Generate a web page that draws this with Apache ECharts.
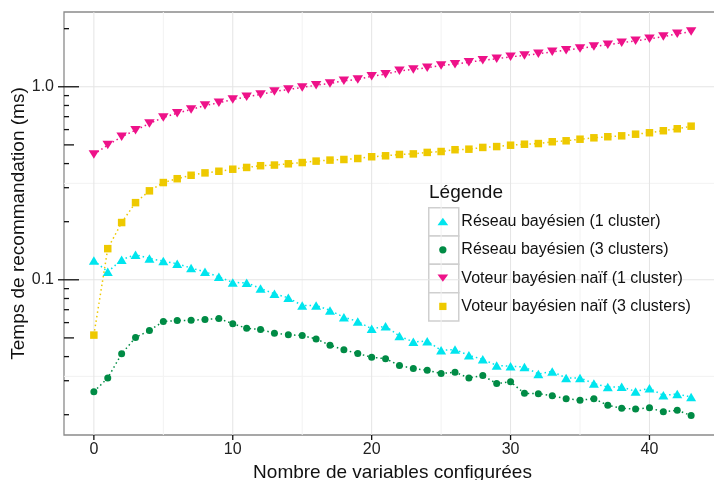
<!DOCTYPE html>
<html>
<head>
<meta charset="utf-8">
<script src="https://cdn.jsdelivr.net/npm/echarts@6/dist/echarts.min.js"></script>
<style>
html,body{margin:0;padding:0;background:#fff;}
#main{width:714px;height:480px;}
</style>
</head>
<body>
<div id="main"></div>
<script>
// nombre de variables configurées
var nbVariables = [0,1,2,3,4,5,6,7,8,9,10,11,12,13,14,15,16,17,18,19,20,21,22,23,24,25,26,27,28,29,30,31,32,33,34,35,36,37,38,39,40,41,42,43];
// temps (ms) par méthode
var reseau1 = [0.126,0.110,0.127,0.135,0.129,0.125,0.121,0.115,0.110,0.1036,0.0968,0.0965,0.0902,0.0846,0.0807,0.0736,0.0736,0.0694,0.0640,0.0608,0.0557,0.0575,0.0511,0.0477,0.0481,0.0431,0.0435,0.0406,0.0387,0.0360,0.0357,0.0353,0.0325,0.0335,0.0310,0.0310,0.0290,0.0278,0.0279,0.0264,0.0274,0.0252,0.0256,0.0247];
var reseau3 = [0.0263,0.0310,0.0414,0.0502,0.0546,0.0608,0.0615,0.0617,0.0623,0.0630,0.0592,0.0561,0.0553,0.0529,0.0519,0.0514,0.0494,0.0458,0.0434,0.0415,0.0397,0.0390,0.0360,0.0347,0.0340,0.0327,0.0332,0.0310,0.0319,0.0290,0.0296,0.0258,0.0257,0.0251,0.0242,0.0238,0.0242,0.0224,0.0216,0.0214,0.0217,0.0207,0.0211,0.0198];
var voteur1 = [0.446,0.499,0.551,0.596,0.645,0.693,0.730,0.763,0.800,0.826,0.859,0.887,0.912,0.946,0.968,0.992,1.019,1.04,1.074,1.091,1.135,1.162,1.21,1.23,1.254,1.289,1.31,1.34,1.373,1.396,1.43,1.452,1.482,1.518,1.548,1.58,1.617,1.65,1.69,1.73,1.773,1.82,1.88,1.934];
var voteur3 = [0.0517,0.145,0.198,0.251,0.289,0.319,0.334,0.348,0.358,0.365,0.374,0.382,0.390,0.393,0.399,0.405,0.412,0.417,0.420,0.425,0.434,0.439,0.446,0.449,0.457,0.462,0.472,0.475,0.485,0.490,0.498,0.504,0.508,0.519,0.525,0.535,0.544,0.551,0.557,0.568,0.578,0.592,0.606,0.625];
var nomsSeries = ['Réseau bayésien (1 cluster)','Réseau bayésien (3 clusters)','Voteur bayésien naïf (1 cluster)','Voteur bayésien naïf (3 clusters)'];
// graduations
var xTicks = [0,10,20,30,40];
var xTickLabels = ['0','10','20','30','40'];
var xMinorGrid = [5,15,25,35,45];
var yTicks = [0.1,1];
var yTickLabels = ['0.1','1.0'];
var yMinorGrid = [0.0316,0.316];
var yMidTicks = [0.05,0.5];
var ySmallTicks = [0.02,0.03,0.04,0.06,0.07,0.08,0.09,0.2,0.3,0.4,0.6,0.7,0.8,0.9,2];

var xMin = -2.15, xMax = 45.15, yMin = 0.0157, yMax = 2.44;
var couleurs = ['#00E5EE','#008B45','#EE1289','#EEC900'];
var police = 'Liberation Sans, Arial, Helvetica, sans-serif';

// éléments du fond : grille + graduations
var decor = [];
xMinorGrid.forEach(function(v){ decor.push({value:[v,yMin], k:'vmin'}); });
yMinorGrid.forEach(function(v){ decor.push({value:[xMin,v], k:'hmin'}); });
xTicks.forEach(function(v){ decor.push({value:[v,yMin], k:'vmaj'}); });
yTicks.forEach(function(v){ decor.push({value:[xMin,v], k:'hmaj'}); });
xTicks.forEach(function(v){ decor.push({value:[v,yMin], k:'xtick'}); });
yTicks.forEach(function(v){ decor.push({value:[xMin,v], k:'ytick'}); });
yMidTicks.forEach(function(v){ decor.push({value:[xMin,v], k:'ymid'}); });
ySmallTicks.forEach(function(v){ decor.push({value:[xMin,v], k:'ysmall'}); });

function renderDecor(params, api){
    var d = decor[params.dataIndex];
    var cs = params.coordSys;
    var p = api.coord([api.value(0), api.value(1)]);
    var s = {stroke:'#e4e4e4', lineWidth:1};
    var sh;
    if(d.k==='vmin'){ sh={x1:p[0],y1:cs.y,x2:p[0],y2:cs.y+cs.height}; s={stroke:'#f2f2f2',lineWidth:1}; }
    else if(d.k==='hmin'){ sh={x1:cs.x,y1:p[1],x2:cs.x+cs.width,y2:p[1]}; s={stroke:'#f2f2f2',lineWidth:1}; }
    else if(d.k==='vmaj'){ sh={x1:p[0],y1:cs.y,x2:p[0],y2:cs.y+cs.height}; }
    else if(d.k==='hmaj'){ sh={x1:cs.x,y1:p[1],x2:cs.x+cs.width,y2:p[1]}; }
    else if(d.k==='xtick'){ sh={x1:p[0],y1:cs.y+cs.height,x2:p[0],y2:cs.y+cs.height+5}; s={stroke:'#111',lineWidth:1.3}; }
    else if(d.k==='ytick'){ sh={x1:cs.x-6,y1:p[1],x2:cs.x+15,y2:p[1]}; s={stroke:'#111',lineWidth:1.3}; }
    else if(d.k==='ymid'){ sh={x1:cs.x,y1:p[1],x2:cs.x+10,y2:p[1]}; s={stroke:'#111',lineWidth:1.3}; }
    else { sh={x1:cs.x,y1:p[1],x2:cs.x+5,y2:p[1]}; s={stroke:'#111',lineWidth:1.3}; }
    return {type:'line', shape:sh, style:s, silent:true};
}

function paires(vals){
    var out = [];
    for(var i=0;i<nbVariables.length;i++) out.push([nbVariables[i], vals[i]]);
    return out;
}
function serie(nom, vals, coul, symb, taille, rot){
    return {
        name:nom, type:'line', data:paires(vals),
        symbol:symb, symbolSize:taille, symbolRotate:rot||0, showSymbol:true,
        itemStyle:{color:coul}, lineStyle:{color:coul, width:1.5, type:[1.5,3]},
        emphasis:{disabled:true}, z:3
    };
}

var myChart = echarts.init(document.getElementById('main'));
var option = {
    animation:false,
    backgroundColor:'#fff',
    textStyle:{fontFamily:police},
    title:{text:'Légende', left:429, top:183, padding:0,
        textStyle:{fontSize:19, fontWeight:'normal', color:'#111', fontFamily:police}},
    grid:{left:64, top:12, right:-7, bottom:45, outerBoundsMode:'none', containLabel:false,
        show:true, borderColor:'#8a8a8a', borderWidth:1.3, backgroundColor:'transparent'},
    xAxis:{
        type:'value', min:xMin, max:xMax, splitNumber:5,
        name:'Nombre de variables configurées', nameLocation:'middle', nameGap:28, nameMoveOverlap:false,
        nameTextStyle:{fontSize:19, color:'#111', fontFamily:police},
        axisLine:{show:false}, axisTick:{show:false}, splitLine:{show:false},
        axisLabel:{fontSize:16, color:'#222', margin:7, fontFamily:police,
            formatter:function(v){
                for(var i=0;i<xTicks.length;i++) if(Math.abs(v-xTicks[i])<1e-6) return xTickLabels[i];
                return '';
            }}
    },
    yAxis:{
        type:'log', logBase:10, min:yMin, max:yMax,
        name:'Temps de recommandation (ms)', nameLocation:'middle', nameGap:36, nameMoveOverlap:false,
        nameTextStyle:{fontSize:19, color:'#111', fontFamily:police},
        axisLine:{show:false}, axisTick:{show:false}, splitLine:{show:false},
        axisLabel:{fontSize:16, color:'#222', margin:10, fontFamily:police,
            formatter:function(v){
                for(var i=0;i<yTicks.length;i++) if(Math.abs(v/yTicks[i]-1)<1e-6) return yTickLabels[i];
                return '';
            }}
    },
    legend:{
        orient:'vertical', left:437.5, top:207.5, padding:0, itemGap:0.3,
        itemWidth:11, itemHeight:7.3, selectedMode:false,
        textStyle:{fontSize:16, color:'#111', lineHeight:28, fontFamily:police, padding:[0,0,0,8]},
        data:[
            {name:nomsSeries[0], icon:'path://M0,7.3L5.35,0L10.7,7.3Z'},
            {name:nomsSeries[1], icon:'path://M0,5a5,5 0 1,0 10,0a5,5 0 1,0 -10,0Z'},
            {name:nomsSeries[2], icon:'path://M0,0L10.7,0L5.35,7.3Z'},
            {name:nomsSeries[3], icon:'path://M0,0L8,0L8,8L0,8Z'}
        ]
    },
    graphic:[
        {type:'rect', left:428, top:207, z:-1, shape:{width:30, height:28.3}, style:{fill:'#fff', stroke:'#cfcfcf', lineWidth:1.5}},
        {type:'rect', left:428, top:235.3, z:-1, shape:{width:30, height:28.3}, style:{fill:'#fff', stroke:'#cfcfcf', lineWidth:1.5}},
        {type:'rect', left:428, top:263.6, z:-1, shape:{width:30, height:28.3}, style:{fill:'#fff', stroke:'#cfcfcf', lineWidth:1.5}},
        {type:'rect', left:428, top:291.9, z:-1, shape:{width:30, height:28.3}, style:{fill:'#fff', stroke:'#cfcfcf', lineWidth:1.5}}
    ],
    series:[
        {type:'custom', coordinateSystem:'cartesian2d', data:decor, renderItem:renderDecor, z:1, silent:true, clip:false, legendHoverLink:false},
        serie(nomsSeries[0], reseau1, couleurs[0], 'triangle', [10,8.5]),
        serie(nomsSeries[1], reseau3, couleurs[1], 'circle', 7),
        serie(nomsSeries[2], voteur1, couleurs[2], 'triangle', [10.5,8.5], 180),
        serie(nomsSeries[3], voteur3, couleurs[3], 'rect', 7.5)
    ]
};
myChart.setOption(option);
</script>
</body>
</html>
